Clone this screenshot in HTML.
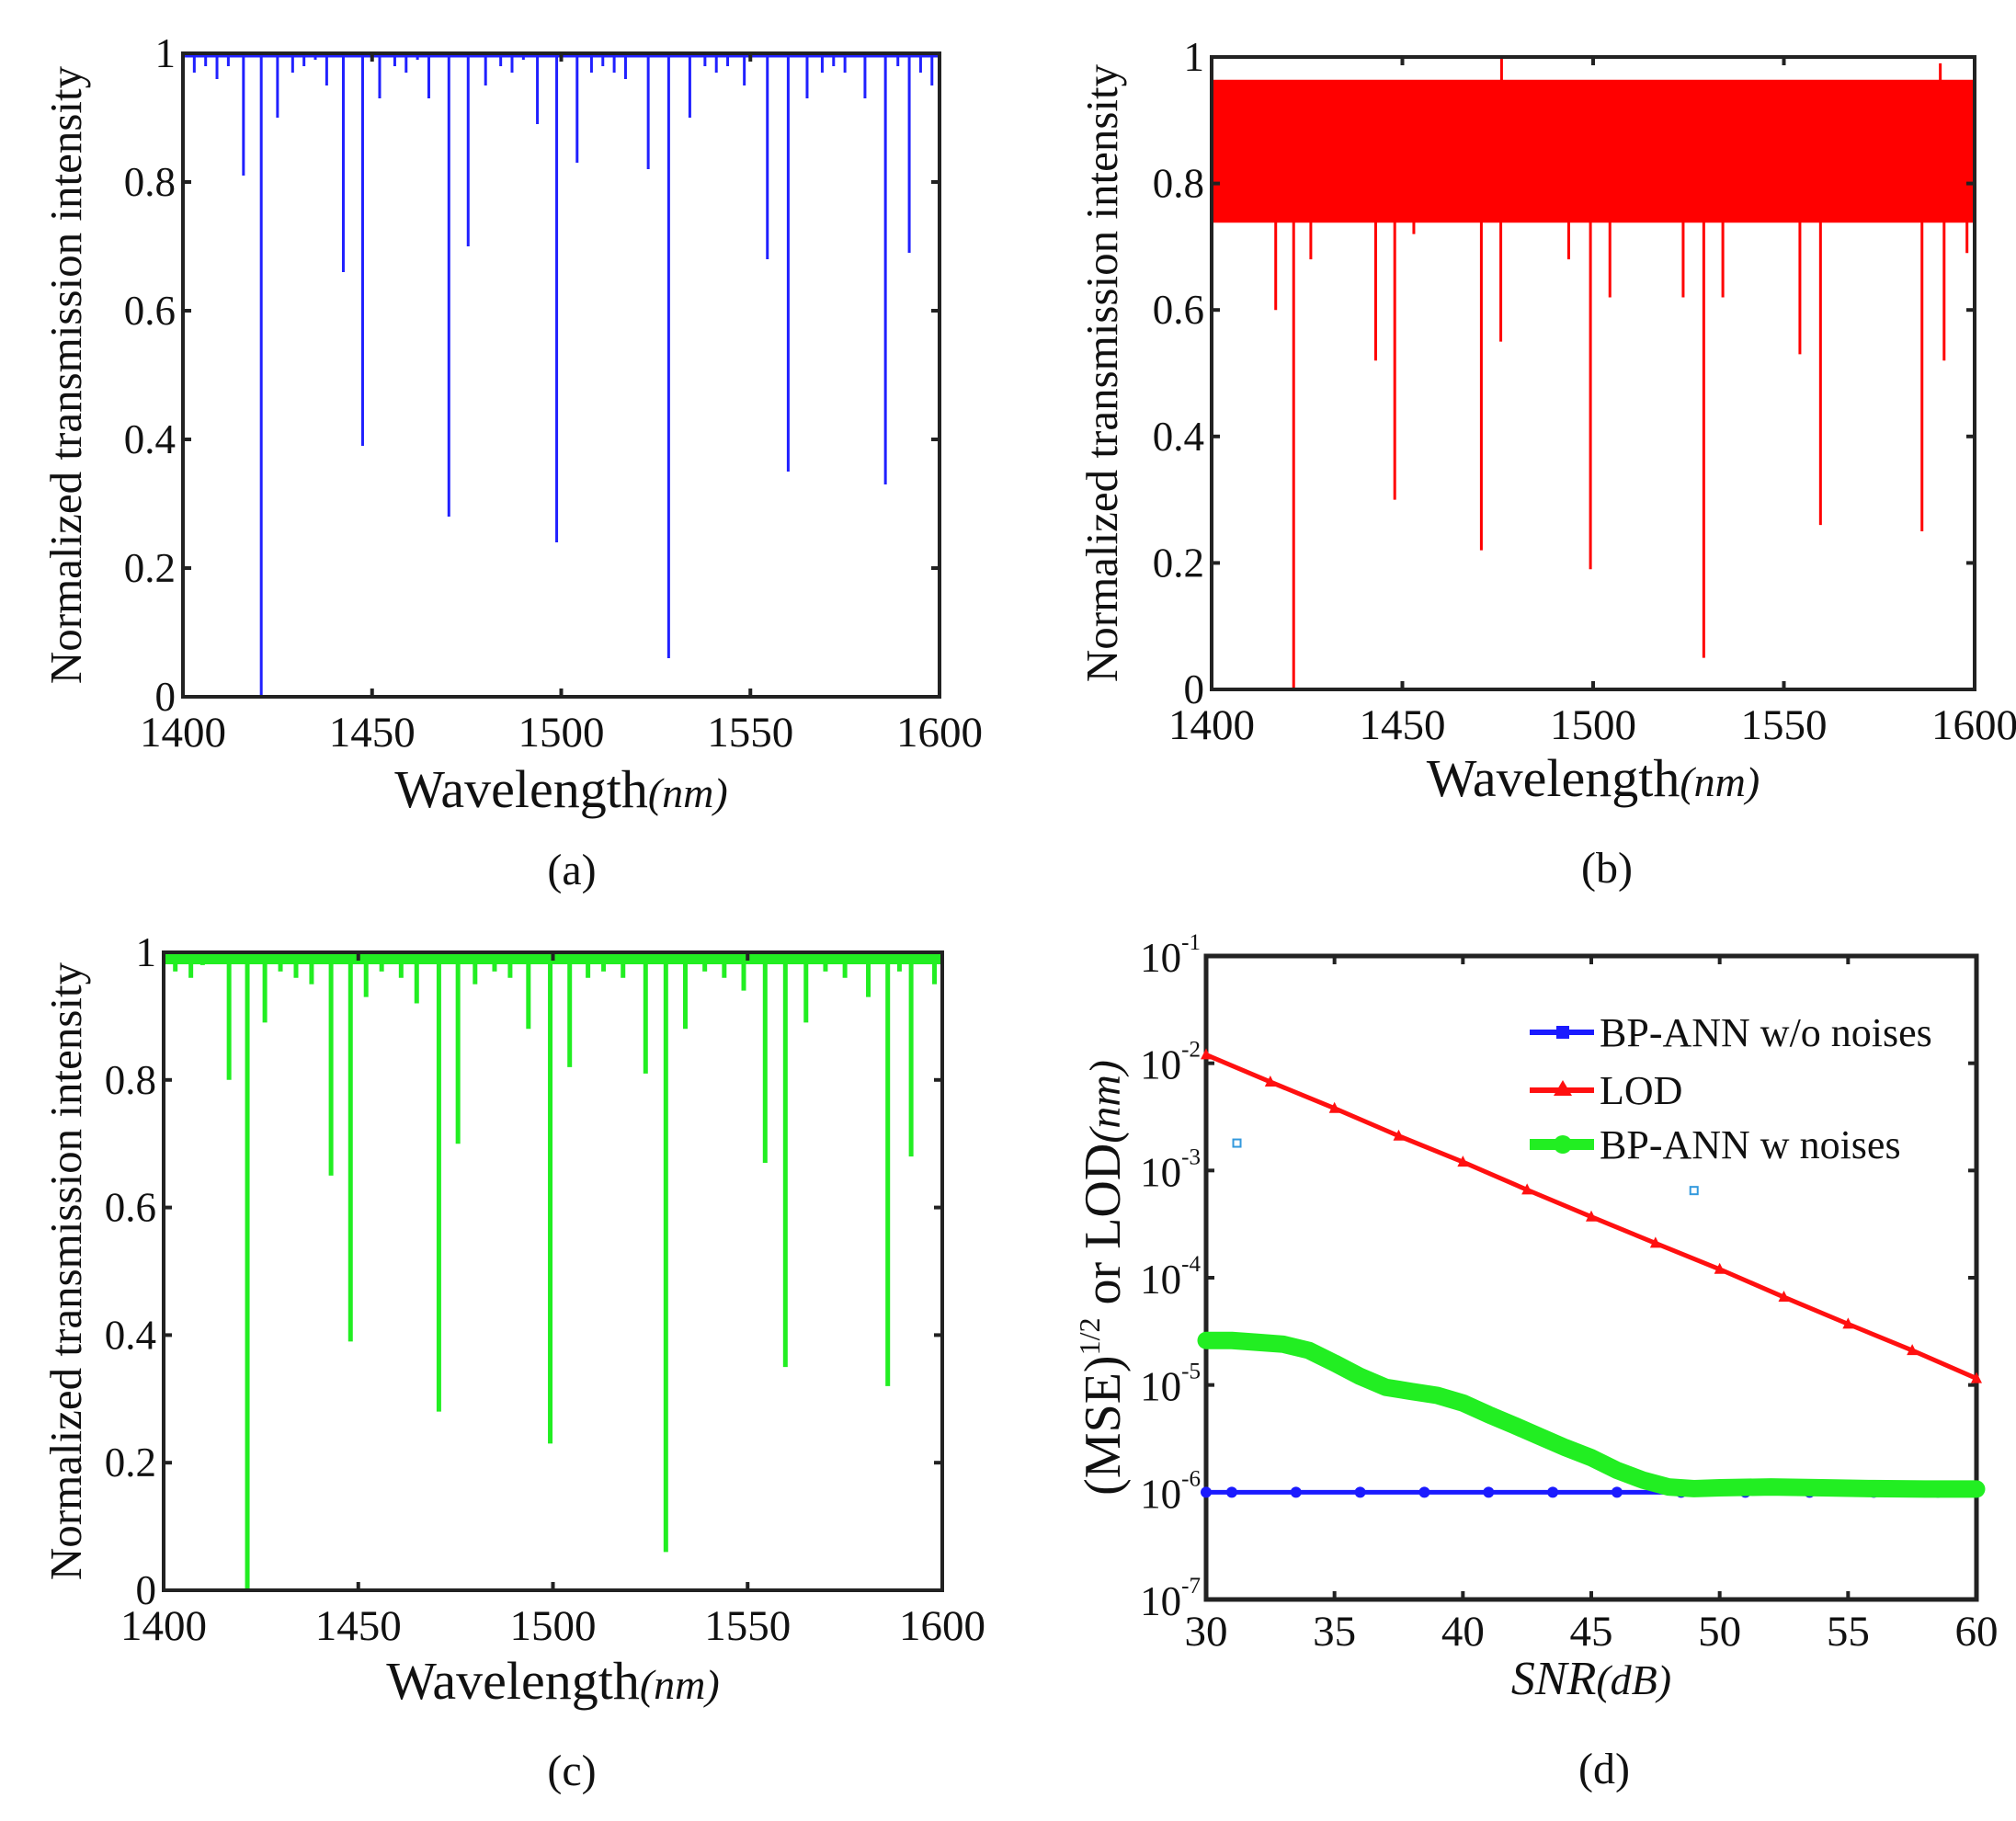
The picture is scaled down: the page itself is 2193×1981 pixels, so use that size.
<!DOCTYPE html>
<html><head><meta charset="utf-8">
<style>
html,body{margin:0;padding:0;background:#fff;}
svg{display:block;}
text{font-family:"Liberation Serif",serif;fill:#111;}
</style></head>
<body>
<svg id="fig" width="2193" height="1981" viewBox="0 0 2193 1981" xmlns="http://www.w3.org/2000/svg">
<g id="pa"></g>
<g id="pb"></g>
<g id="pc"></g>
<g id="pd"></g>
</svg>
<script>
// ---- data ----
const dipsA_wl = [1403,1406,1409,1412,1416,1420.7,1425,1429,1432,1435,1438,1442.4,1447.5,1452,1456,1459,1462,1465,1470.3,1475.4,1480,1484,1487,1490,1493.7,1498.8,1504.2,1508,1511,1514,1517,1523,1528.4,1534,1538,1541,1544,1548.4,1554.5,1560,1565,1569,1572,1575,1580.3,1585.7,1589,1592,1595,1598];
const dipsA_val = [0.97,0.98,0.96,0.98,0.81,0.0,0.90,0.97,0.98,0.99,0.95,0.66,0.39,0.93,0.98,0.97,0.99,0.93,0.28,0.70,0.95,0.98,0.97,0.99,0.89,0.24,0.83,0.97,0.98,0.97,0.96,0.82,0.06,0.90,0.98,0.97,0.98,0.95,0.68,0.35,0.93,0.97,0.98,0.97,0.93,0.33,0.98,0.69,0.97,0.95];
const dipsB_wl = [1416.8,1421.5,1426,1443,1448,1453,1470.7,1475.8,1493.6,1499.3,1504.4,1523.6,1529,1534,1554.2,1559.6,1586.2,1592,1598];
const dipsB_val = [0.60,0.0,0.68,0.52,0.30,0.72,0.22,0.55,0.68,0.19,0.62,0.62,0.05,0.62,0.53,0.26,0.25,0.52,0.69];
const bandB = [0.738,0.964];
const spikesB_wl = [1476,1591];
const spikesB_val = [1.0,0.99];
const dipsC_wl = [1403,1407,1410,1416.8,1421.5,1426,1430,1434,1438,1443,1448,1452,1456,1461,1465,1470.7,1475.6,1480,1485,1489,1493.7,1499.3,1504.3,1509,1513,1518,1523.8,1529,1534,1539,1544,1549,1554.5,1559.7,1565,1570,1575,1581,1586,1589,1592,1598];
const dipsC_val = [0.97,0.96,0.98,0.80,0.0,0.89,0.97,0.96,0.95,0.65,0.39,0.93,0.97,0.96,0.92,0.28,0.70,0.95,0.97,0.96,0.88,0.23,0.82,0.96,0.97,0.96,0.81,0.06,0.88,0.97,0.96,0.94,0.67,0.35,0.89,0.97,0.96,0.93,0.32,0.97,0.68,0.95];
const xTicksWl = [1400,1450,1500,1550,1600];
const yTicksLin = [0,0.2,0.4,0.6,0.8,1];
const yTickLinLabels = ['0','0.2','0.4','0.6','0.8','1'];
// panel d
const snrLOD = [30,32.5,35,37.5,40,42.5,45,47.5,50,52.5,55,57.5,60];
const valLOD = [1.2e-2,6.7e-3,3.8e-3,2.1e-3,1.2e-3,6.6e-4,3.7e-4,2.1e-4,1.2e-4,6.6e-5,3.7e-5,2.1e-5,1.15e-5];
const snrBlue = [30,31,33.5,36,38.5,41,43.5,46,48.5,51,53.5,56,58.5,60];
const valBlue = [1e-6,1e-6,1e-6,1e-6,1e-6,1e-6,1e-6,1e-6,1e-6,1e-6,1e-6,1e-6,1e-6,1e-6];
const snrGreen = [30,31,32,33,34,35,36,37,38,39,40,41,42,43,44,45,46,47,48,49,50,52,54,56,58,60];
const valGreen = [2.6e-5,2.6e-5,2.5e-5,2.4e-5,2.1e-5,1.6e-5,1.2e-5,9.5e-6,8.7e-6,8e-6,6.8e-6,5.3e-6,4.2e-6,3.3e-6,2.6e-6,2.1e-6,1.6e-6,1.3e-6,1.12e-6,1.08e-6,1.1e-6,1.12e-6,1.1e-6,1.08e-6,1.07e-6,1.07e-6];
const xTicksSnr = [30,35,40,45,50,55,60];
const yTicksExp = [-1,-2,-3,-4,-5,-6,-7];
const strayX = [31.2,49];
const strayY = [1.8e-3,6.5e-4];

const NS='http://www.w3.org/2000/svg';
function mk(parent,tag,attrs){const e=document.createElementNS(NS,tag);for(const k in attrs)e.setAttribute(k,attrs[k]);parent.appendChild(e);return e;}
function txt(parent,x,y,s,size,anchor,extra){const t=mk(parent,'text',Object.assign({x:x,y:y,'font-size':size,'text-anchor':anchor||'middle'},extra||{}));t.textContent=s;return t;}

function linPanel(g,box,wls,vals,color,sw,opts){
  const sx=v=>box.x0+(v-1400)/200*(box.x1-box.x0);
  const sy=v=>box.y1-v*(box.y1-box.y0);
  const plot=mk(g,'g',{});
  
  
  if(opts.band){
    const r=mk(plot,'rect',{x:box.x0+2,y:sy(opts.band[1]),width:box.x1-box.x0-4,height:sy(opts.band[0])-sy(opts.band[1]),fill:color});
    
    
  } else {
    mk(plot,'line',{x1:box.x0,x2:box.x1,y1:sy(opts.topVal||1)+sw/2,y2:sy(opts.topVal||1)+sw/2,stroke:color,'stroke-width':opts.topW||sw});
  }
  wls.forEach((w,i)=>{
    const l=mk(plot,'line',{x1:sx(w),x2:sx(w),y1:sy(opts.band?opts.band[1]-0.1:1),y2:sy(vals[i]),stroke:color,'stroke-width':sw});
    
    
  });
  if(opts.spikes){opts.spikes[0].forEach((w,i)=>{mk(plot,'line',{x1:sx(w),x2:sx(w),y1:sy(0.9),y2:sy(opts.spikes[1][i]),stroke:color,'stroke-width':sw});});}
  const ax=mk(g,'rect',{x:box.x0,y:box.y0,width:box.x1-box.x0,height:box.y1-box.y0,fill:'none',stroke:'#222','stroke-width':4});
  
  
  xTicksWl.forEach(v=>{
    mk(g,'line',{x1:sx(v),x2:sx(v),y1:box.y1,y2:box.y1-9,stroke:'#222','stroke-width':4});
    mk(g,'line',{x1:sx(v),x2:sx(v),y1:box.y0,y2:box.y0+9,stroke:'#222','stroke-width':4});
    const t=txt(g,sx(v),box.y1+54,String(v),47);
    
    
  });
  yTicksLin.forEach((v,i)=>{
    mk(g,'line',{x1:box.x0,x2:box.x0+9,y1:sy(v),y2:sy(v),stroke:'#222','stroke-width':4});
    mk(g,'line',{x1:box.x1,x2:box.x1-9,y1:sy(v),y2:sy(v),stroke:'#222','stroke-width':4});
    const t=txt(g,box.x0-8,sy(v)+15,yTickLinLabels[i],45,'end');
    
    
  });
  const yl=txt(g,0,0,'Normalized transmission intensity',49,'middle',{transform:`translate(${opts.ylx},${(box.y0+box.y1)/2}) rotate(-90)`});
  
  
  const xl=mk(g,'text',{x:(box.x0+box.x1)/2,y:opts.xtitleY,'font-size':58,'text-anchor':'middle'});
  
  
  xl.innerHTML='Wavelength<tspan font-size="46" font-style="italic">(nm)</tspan>';
  const cap=txt(g,opts.capX,opts.capY,opts.cap,48);
  
  
}

linPanel(document.getElementById('pa'),{x0:199,x1:1022,y0:58,y1:758},dipsA_wl,dipsA_val,'#2020ff',3,
  {xtitleY:878,ylx:88,cap:'(a)',capX:622,capY:962,topW:6});
linPanel(document.getElementById('pb'),{x0:1318,x1:2148,y0:62,y1:750},dipsB_wl,dipsB_val,'#ff0000',3,
  {band:bandB,spikes:[spikesB_wl,spikesB_val],xtitleY:866,ylx:1215,cap:'(b)',capX:1748,capY:960});
linPanel(document.getElementById('pc'),{x0:178,x1:1025,y0:1036,y1:1730},dipsC_wl,dipsC_val,'#22ee22',5,
  {xtitleY:1848,ylx:88,cap:'(c)',capX:622,capY:1942,topW:14,topVal:0.995});

// ---- panel d ----
(function(){
  const g=document.getElementById('pd');
  const box={x0:1312,x1:2150,y0:1040,y1:1740};
  const sx=v=>box.x0+(v-30)/30*(box.x1-box.x0);
  const sy=v=>box.y0+(-1-Math.log10(v))/6*(box.y1-box.y0);
  const ax=mk(g,'rect',{x:box.x0,y:box.y0,width:box.x1-box.x0,height:box.y1-box.y0,fill:'none',stroke:'#222','stroke-width':5});
  
  
  xTicksSnr.forEach(v=>{
    mk(g,'line',{x1:sx(v),x2:sx(v),y1:box.y1,y2:box.y1-9,stroke:'#222','stroke-width':4});
    mk(g,'line',{x1:sx(v),x2:sx(v),y1:box.y0,y2:box.y0+9,stroke:'#222','stroke-width':4});
    const t=txt(g,sx(v),box.y1+50,String(v),47);
    
    
  });
  yTicksExp.forEach(e=>{
    const y=sy(Math.pow(10,e));
    mk(g,'line',{x1:box.x0,x2:box.x0+9,y1:y,y2:y,stroke:'#222','stroke-width':4});
    mk(g,'line',{x1:box.x1,x2:box.x1-9,y1:y,y2:y,stroke:'#222','stroke-width':4});
    const t=mk(g,'text',{x:box.x0-6,y:y+17,'font-size':45,'text-anchor':'end'});
    
    
    t.innerHTML='10<tspan font-size="25" dy="-24">'+e+'</tspan>';
  });
  function series(xs,ys,color,w,name){
    const pts=xs.map((x,i)=>sx(x)+','+sy(ys[i])).join(' ');
    const p=mk(g,'polyline',{points:pts,fill:'none',stroke:color,'stroke-width':w,'stroke-linejoin':'round','stroke-linecap':'round'});
    
    
  }
  series(snrBlue,valBlue,'#1a1aff',5,'series-bp-ann-wo-noises');
  snrBlue.forEach((x,i)=>{const c=mk(g,'circle',{cx:sx(x),cy:sy(valBlue[i]),r:6,fill:'#1a1aff'});
    });
  series(snrLOD,valLOD,'#ff1010',5,'series-lod');
  snrLOD.forEach((x,i)=>{const X=sx(x),Y=sy(valLOD[i]);const t=mk(g,'polygon',{points:`${X},${Y-7} ${X-6},${Y+5} ${X+6},${Y+5}`,fill:'#ff1010'});
    });
  series(snrGreen,valGreen,'#22ee22',19,'series-bp-ann-w-noises');
  strayX.forEach((x,i)=>{const r=mk(g,'rect',{x:sx(x)-4,y:sy(strayY[i])-4,width:8,height:8,fill:'none',stroke:'#3399dd','stroke-width':2});
    });
  const leg=[['BP-ANN w/o noises','#1a1aff','sq',1123,6],['LOD','#ff1010','tri',1186,6],['BP-ANN w noises','#22ee22','circ',1245,12]];
  leg.forEach(l=>{
    const lg=mk(g,'g',{});
    
    
    mk(lg,'line',{x1:1664,x2:1734,y1:l[3],y2:l[3],stroke:l[1],'stroke-width':l[4]});
    if(l[2]==='sq')mk(lg,'rect',{x:1693,y:l[3]-7,width:14,height:14,fill:l[1]});
    if(l[2]==='tri')mk(lg,'polygon',{points:`1700,${l[3]-11} 1690,${l[3]+6} 1710,${l[3]+6}`,fill:l[1]});
    if(l[2]==='circ')mk(lg,'circle',{cx:1700,cy:l[3],r:10,fill:l[1]});
    txt(lg,1740,l[3]+15,l[0],44,'start');
  });
  const yl=mk(g,'text',{'font-size':56,'text-anchor':'middle',transform:`translate(1218,${(box.y0+box.y1)/2}) rotate(-90)`});
  
  
  yl.innerHTML='(MSE)<tspan font-size="32" dy="-22">1/2</tspan><tspan dy="22"> or LOD</tspan><tspan font-style="italic" font-size="48">(nm)</tspan>';
  const xl=mk(g,'text',{x:(box.x0+box.x1)/2,y:1843,'font-size':52,'text-anchor':'middle'});
  
  
  xl.innerHTML='<tspan font-style="italic">SNR</tspan><tspan font-size="46" font-style="italic">(dB)</tspan>';
  const cap=txt(g,1745,1940,'(d)',48);
  
  
})();
</script>
</body></html>
